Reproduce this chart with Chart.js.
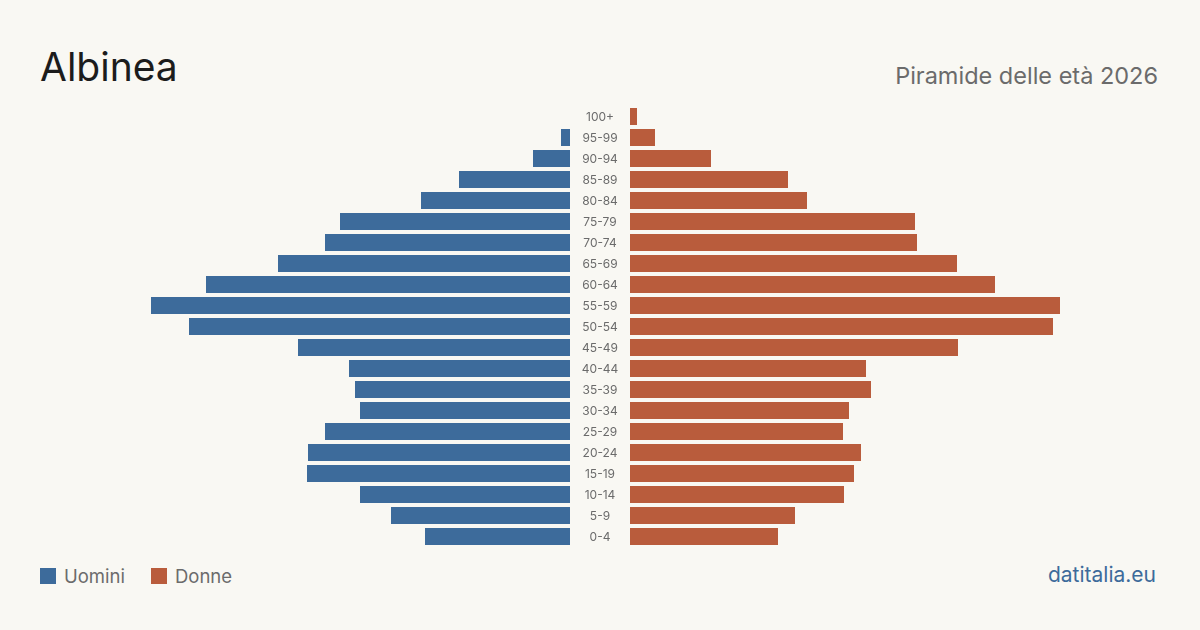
<!DOCTYPE html>
<html>
<head>
<meta charset="utf-8">
<script src="https://cdn.jsdelivr.net/npm/chart.js@4/dist/chart.umd.min.js"></script>
<style>
  body { margin: 0; width: 1200px; height: 630px; background: #f9f8f3; font-family: Inter, "Noto Sans", sans-serif; position: relative; overflow: hidden; }
  #title { position: absolute; left: 40px; top: 41px; font-size: 39px; color: #1c1c1c; line-height: 52px; }
  #subtitle { position: absolute; right: 42px; top: 61px; font-size: 23.5px; color: #6b6b6b; line-height: 30px; }
  #leftWrap { position: absolute; left: 140px; top: 106px; width: 490px; height: 441px; }
  #rightWrap { position: absolute; left: 630px; top: 106px; width: 430px; height: 441px; }
  #legend { position: absolute; left: 40px; top: 565px; font-size: 18.5px; color: #6b6b6b; display: flex; align-items: center; }
  #legend span.sw { display: inline-block; width: 16px; height: 16px; margin-right: 8px; }
  #legend span.lab { margin-right: 26px; }
  #source { position: absolute; right: 44px; top: 562px; font-size: 21px; color: #3d6b9b; }
</style>
</head>
<body>
<div id="title">Albinea</div>
<div id="subtitle">Piramide delle età 2026</div>
<div id="leftWrap"><canvas id="leftChart"></canvas></div>
<div id="rightWrap"><canvas id="rightChart"></canvas></div>
<div id="legend">
  <span class="sw" style="background:#3d6b9b"></span><span class="lab">Uomini</span>
  <span class="sw" style="background:#b95c3c"></span><span class="lab">Donne</span>
</div>
<div id="source">datitalia.eu</div>
<script>
// Classi di età (dall'alto verso il basso)
const fasce = ['100+', '95-99', '90-94', '85-89', '80-84', '75-79', '70-74', '65-69', '60-64', '55-59', '50-54',
  '45-49', '40-44', '35-39', '30-34', '25-29', '20-24', '15-19', '10-14', '5-9', '0-4'];

// Residenti per sesso
const uomini = [0, 9, 37, 111, 149, 230, 245, 292, 364, 419, 381, 272, 221, 215, 210, 245, 262, 263, 210, 179, 145];
const donne = [7, 25, 81, 158, 177, 285, 287, 327, 365, 430, 423, 328, 236, 241, 219, 213, 231, 224, 214, 165, 148];

const maxVal = 430;
const blu = '#3d6b9b';
const arancio = '#b95c3c';

// etichette delle fasce al centro, posizionate con la scala y
const etichetteCentro = {
    id: 'etichetteCentro',
    afterDatasetsDraw(chart) {
        const ctx = chart.ctx;
        const y = chart.scales.y;
        const cx = chart.chartArea.right + 30;
        ctx.save();
        ctx.fillStyle = '#6b6b6b';
        ctx.font = '12px Inter, sans-serif';
        ctx.textAlign = 'center';
        ctx.textBaseline = 'middle';
        fasce.forEach((f, i) => {
            ctx.fillText(f, cx, y.getPixelForValue(i) + 0.5);
        });
        ctx.restore();
    }
};

// Grafico uomini (a sinistra, asse invertito)
new Chart(document.getElementById('leftChart').getContext('2d'), {
    type: 'bar',
    data: {
        labels: fasce,
        datasets: [{
            label: 'Uomini',
            data: uomini,
            backgroundColor: blu,
            barPercentage: 1,
            categoryPercentage: 0.81
        }]
    },
    options: {
        indexAxis: 'y',
        responsive: true,
        maintainAspectRatio: false,
        animation: false,
        layout: { padding: { right: 60 } },
        plugins: { legend: { display: false }, tooltip: { enabled: false } },
        scales: {
            x: { display: false, reverse: true, min: 0, max: maxVal },
            y: { display: false }
        }
    },
    plugins: [etichetteCentro]
});

// Grafico donne (a destra)
new Chart(document.getElementById('rightChart').getContext('2d'), {
    type: 'bar',
    data: {
        labels: fasce,
        datasets: [{
            label: 'Donne',
            data: donne,
            backgroundColor: arancio,
            barPercentage: 1,
            categoryPercentage: 0.81
        }]
    },
    options: {
        indexAxis: 'y',
        responsive: true,
        maintainAspectRatio: false,
        animation: false,
        layout: { padding: 0 },
        plugins: { legend: { display: false }, tooltip: { enabled: false } },
        scales: {
            x: { display: false, min: 0, max: maxVal },
            y: { display: false }
        }
    }
});
</script>
</body>
</html>
